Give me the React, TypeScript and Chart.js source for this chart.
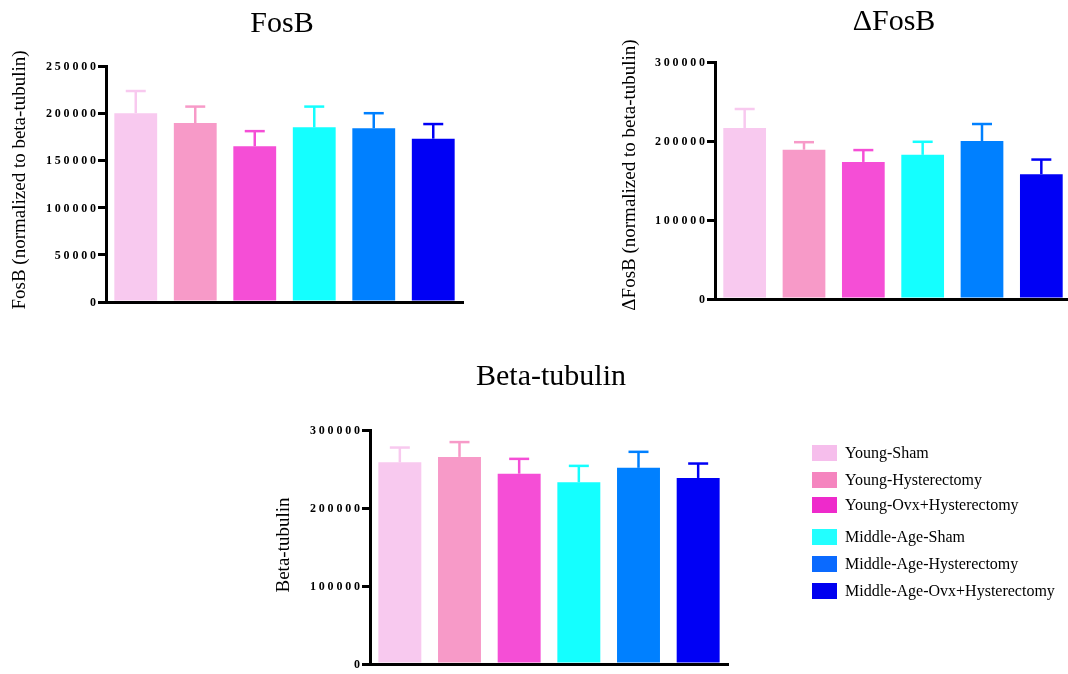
import React, { useEffect, useRef } from "react";
import { Chart, registerables } from "chart.js";

Chart.register(...registerables);

const groups = [
  "Young-Sham",
  "Young-Hysterectomy",
  "Young-Ovx+Hysterectomy",
  "Middle-Age-Sham",
  "Middle-Age-Hysterectomy",
  "Middle-Age-Ovx+Hysterectomy",
];

const barColors = ["#F8C9EF", "#F79AC8", "#F54ED6", "#14FFFF", "#0080FF", "#0000F5"];
const legendColors = ["#F6BEEC", "#F585BF", "#EE2ACB", "#22FFFF", "#0A6AFF", "#0000F0"];

const fosbMeans = [200000, 189500, 165000, 185000, 184000, 173000];
const fosbSem = [23500, 17500, 16000, 22000, 16000, 15500];

const deltaFosbMeans = [216500, 189000, 173500, 182500, 200000, 158000];
const deltaFosbSem = [24000, 9500, 15000, 16500, 21500, 18500];

const tubulinMeans = [258500, 265500, 244000, 233000, 251500, 238500];
const tubulinSem = [19000, 19000, 19000, 21000, 20500, 18500];

const SERIF = "'Liberation Serif', 'Times New Roman', serif";
const PAGE_H = 674;

type Spec = {
  canvasW: number;
  area: { left: number; top: number; right: number; bottom: number };
  title: string;
  titleX: number;
  titleY: number;
  yTitle: string;
  yTitleX: number;
  yTitleY: number;
  means: number[];
  sem: number[];
  max: number;
  step: number;
};

const specs: Spec[] = [
  {
    canvasW: 1068,
    area: { left: 106, top: 66, right: 463, bottom: 302 },
    title: "FosB",
    titleX: 282,
    titleY: 32,
    yTitle: "FosB (normalized to beta-tubulin)",
    yTitleX: 20,
    yTitleY: 180,
    means: fosbMeans,
    sem: fosbSem,
    max: 250000,
    step: 50000,
  },
  {
    canvasW: 1090,
    area: { left: 715, top: 62, right: 1071, bottom: 299 },
    title: "\u0394FosB",
    titleX: 894,
    titleY: 30,
    yTitle: "\u0394FosB (normalized to beta-tubulin)",
    yTitleX: 630,
    yTitleY: 175,
    means: deltaFosbMeans,
    sem: deltaFosbSem,
    max: 300000,
    step: 100000,
  },
  {
    canvasW: 1068,
    area: { left: 370, top: 430, right: 728, bottom: 664 },
    title: "Beta-tubulin",
    titleX: 551,
    titleY: 385,
    yTitle: "Beta-tubulin",
    yTitleX: 284,
    yTitleY: 545,
    means: tubulinMeans,
    sem: tubulinSem,
    max: 300000,
    step: 100000,
  },
];

function makePlugin(spec: Spec) {
  return {
    id: "decor",
    afterDatasetsDraw(chart: any) {
      const ctx = chart.ctx;
      const meta = chart.getDatasetMeta(0);
      const y = chart.scales.y;
      ctx.save();
      meta.data.forEach((el: any, i: number) => {
        const top = y.getPixelForValue(spec.means[i] + spec.sem[i]);
        ctx.strokeStyle = barColors[i];
        ctx.lineWidth = 2.5;
        ctx.lineCap = "butt";
        ctx.beginPath();
        ctx.moveTo(el.x, el.y);
        ctx.lineTo(el.x, top);
        ctx.stroke();
        ctx.beginPath();
        ctx.moveTo(el.x - 10, top);
        ctx.lineTo(el.x + 10, top);
        ctx.stroke();
      });
      ctx.restore();
    },
    afterDraw(chart: any) {
      const ctx = chart.ctx;
      const y = chart.scales.y;
      ctx.save();
      ctx.fillStyle = "#000";
      ctx.font = `30px ${SERIF}`;
      ctx.textAlign = "center";
      ctx.textBaseline = "alphabetic";
      ctx.fillText(spec.title, spec.titleX, spec.titleY);
      ctx.save();
      ctx.translate(spec.yTitleX, spec.yTitleY);
      ctx.rotate(-Math.PI / 2);
      ctx.font = `19px ${SERIF}`;
      ctx.textAlign = "center";
      ctx.textBaseline = "middle";
      ctx.fillText(spec.yTitle, 0, 0);
      ctx.restore();
      const spacing = 2.8;
      (ctx as any).letterSpacing = `${spacing}px`;
      ctx.font = `bold 12px ${SERIF}`;
      ctx.textAlign = "right";
      ctx.textBaseline = "middle";
      y.ticks.forEach((t: any) => {
        const py = y.getPixelForValue(t.value);
        ctx.fillText(String(t.value), chart.chartArea.left - 10 + spacing, py + 1);
      });
      (ctx as any).letterSpacing = "0px";
      ctx.restore();
    },
  };
}

function BarPanel({ spec }: { spec: Spec }) {
  const ref = useRef<HTMLCanvasElement | null>(null);
  useEffect(() => {
    if (!ref.current) return;
    const { area, canvasW } = spec;
    const chart = new Chart(ref.current, {
      type: "bar",
      data: {
        labels: groups,
        datasets: [
          {
            data: spec.means,
            backgroundColor: barColors,
            borderWidth: 0,
            categoryPercentage: 1,
            barPercentage: 0.72,
          },
        ],
      },
      options: {
        animation: false,
        responsive: false,
        events: [],
        layout: {
          padding: {
            left: 0,
            top: area.top,
            right: canvasW - area.right,
            bottom: PAGE_H - area.bottom,
          },
        },
        plugins: {
          legend: { display: false },
          tooltip: { enabled: false },
          title: { display: false },
        },
        scales: {
          x: {
            type: "category",
            offset: true,
            grid: { display: false },
            border: { display: true, color: "#000", width: 3 },
            ticks: { display: false },
            afterFit: (s: any) => {
              s.height = 0;
            },
          },
          y: {
            min: 0,
            max: spec.max,
            ticks: { stepSize: spec.step, display: false },
            grid: {
              display: true,
              drawOnChartArea: false,
              drawTicks: true,
              tickLength: 8,
              color: "#000",
              lineWidth: 3,
            },
            border: { display: true, color: "#000", width: 3 },
            afterFit: (s: any) => {
              s.width = area.left;
            },
          },
        },
      } as any,
      plugins: [makePlugin(spec) as any],
    });
    return () => chart.destroy();
  }, [spec]);
  return (
    <canvas
      ref={ref}
      width={spec.canvasW}
      height={PAGE_H}
      style={{ position: "absolute", left: 0, top: 0, width: spec.canvasW, height: PAGE_H }}
    />
  );
}

const legendRowCenters = [453, 480, 505, 537, 564, 591];

export default function App() {
  return (
    <div
      style={{
        position: "absolute",
        left: 0,
        top: 0,
        width: 1068,
        height: PAGE_H,
        overflow: "hidden",
        background: "#fff",
      }}
    >
      {specs.map((s, i) => (
        <BarPanel key={i} spec={s} />
      ))}
      {groups.map((g, i) => (
        <div
          key={g}
          style={{
            position: "absolute",
            left: 812,
            top: legendRowCenters[i] - 10,
            height: 20,
            display: "flex",
            alignItems: "center",
            whiteSpace: "nowrap",
          }}
        >
          <div style={{ width: 25, height: 16, background: legendColors[i], marginRight: 8 }} />
          <span style={{ fontFamily: SERIF, fontSize: 16, color: "#000", lineHeight: "20px" }}>{g}</span>
        </div>
      ))}
    </div>
  );
}
